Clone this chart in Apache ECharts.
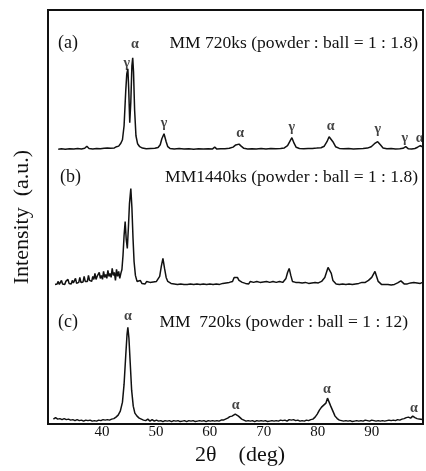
<!DOCTYPE html>
<html>
<head>
<meta charset="utf-8">
<script src="https://cdn.jsdelivr.net/npm/echarts@6/dist/echarts.min.js"></script>
<style>
  html, body { margin: 0; padding: 0; background: #fff; }
  #chart { width: 426px; height: 471px; }
</style>
</head>
<body>
<div id="chart"></div>
<script>
// 2θ (deg), intensity (a.u.)
const patternA = [
  [31.9, 0.5], [32.5, 0.9], [33.2, 0.4], [34.0, 1.0], [34.8, 0.6], [35.5, 1.1], [36.2, 0.7], [36.8, 1.4], [37.2, 3.4], [37.6, 1.2],
  [38.3, 0.8], [39.0, 1.3], [39.7, 0.9], [40.4, 1.4], [41.0, 1.6], [41.3, 3.2], [41.6, 1.4], [41.9, 2.2], [42.3, 1.8], [42.7, 3.0],
  [43.1, 3.6], [43.5, 6.5], [43.8, 10], [44.1, 24], [44.4, 58], [44.6, 76], [44.8, 81], [44.95, 62], [45.15, 27], [45.35, 48],
  [45.55, 84], [45.7, 92], [45.85, 78], [46.05, 40], [46.3, 14], [46.6, 6], [47.0, 3], [47.5, 1.6], [48.2, 1.0], [49.0, 1.2],
  [49.8, 1.4], [50.4, 2.2], [50.8, 5], [51.1, 11], [51.5, 16], [51.9, 8], [52.2, 3], [52.6, 1.3], [53.4, 0.8], [54.3, 1.1],
  [55.2, 0.7], [56.1, 1.0], [57.0, 0.5], [57.9, 0.9], [58.8, 0.6], [59.7, 1.0], [60.5, 0.8], [60.9, 2.6], [61.3, 0.6], [62.0, 1.0],
  [62.8, 0.9], [63.6, 1.4], [64.3, 2.6], [64.8, 4.8], [65.1, 6], [65.4, 5.6], [65.8, 3.6], [66.3, 1.4], [67.0, 0.8], [67.8, 1.0],
  [68.6, 0.7], [69.5, 1.1], [70.4, 0.8], [71.3, 1.2], [72.2, 0.9], [73.1, 1.3], [73.8, 1.8], [74.4, 4], [74.8, 8], [75.2, 12],
  [75.6, 6.5], [76.0, 2.4], [76.6, 1.2], [77.4, 0.9], [78.2, 1.1], [79.0, 1.3], [79.8, 1.6], [80.6, 2.0], [81.2, 3.5], [81.7, 8],
  [82.1, 13], [82.4, 14], [82.8, 8], [83.3, 3], [84.0, 1.3], [84.8, 0.9], [85.7, 1.1], [86.6, 0.8], [87.5, 1.0], [88.4, 1.2],
  [89.2, 1.6], [89.9, 3], [90.5, 6], [91.1, 8], [91.6, 5], [92.1, 1.8], [92.8, 0.9], [93.6, 1.1], [94.4, 0.8], [95.2, 1.0],
  [95.8, 1.4], [96.3, 3], [96.8, 0.9], [97.4, 0.6], [98.0, 1.2], [98.5, 2.5], [99.0, 4], [99.4, 3]
];

const patternB = [
  [31.3, 1], [31.5, 3], [31.7, 1.5], [31.9, 4], [32.1, 1], [32.3, 2], [32.5, 5], [32.7, 1.5], [32.9, 2.5], [33.1, 1],
  [33.3, 4], [33.5, 2], [33.7, 6], [33.9, 2], [34.1, 3], [34.3, 1.5], [34.5, 5], [34.7, 2.5], [34.9, 3], [35.1, 7],
  [35.3, 2], [35.5, 4], [35.7, 3], [35.9, 8], [36.1, 3], [36.3, 5], [36.5, 3.5], [36.7, 9], [36.9, 4], [37.1, 6],
  [37.3, 4], [37.5, 10], [37.7, 5], [37.9, 7], [38.1, 4], [38.3, 9], [38.5, 6], [38.7, 12], [38.9, 6], [39.1, 9],
  [39.3, 7], [39.5, 13], [39.7, 7], [39.9, 10], [40.1, 6], [40.3, 14], [40.5, 8], [40.7, 11], [40.9, 7], [41.1, 15],
  [41.3, 9], [41.5, 12], [41.7, 8], [41.9, 17], [42.1, 10], [42.3, 13], [42.5, 5], [42.7, 16], [42.9, 9], [43.1, 14],
  [43.3, 7], [43.5, 12], [43.7, 16], [43.9, 30], [44.1, 50], [44.3, 64], [44.5, 46], [44.7, 37], [44.9, 58], [45.1, 82],
  [45.35, 97], [45.55, 78], [45.75, 48], [45.95, 24], [46.2, 10], [46.5, 4], [46.8, 2], [47.1, 5], [47.4, 2], [47.7, 3],
  [48.0, 1.5], [48.3, 4], [48.6, 2], [48.9, 3], [49.2, 1.5], [49.5, 3.5], [49.8, 2], [50.1, 4], [50.4, 5], [50.7, 9],
  [51.0, 19], [51.3, 27], [51.6, 17], [51.9, 8], [52.2, 4], [52.5, 5], [52.8, 2], [53.1, 4], [53.4, 1.5], [53.7, 3],
  [54.0, 1], [54.3, 2.5], [54.6, 1.5], [54.9, 3.5], [55.2, 1], [55.5, 2], [55.8, 1], [56.1, 3], [56.4, 1.5], [56.7, 2],
  [57.0, 1], [57.3, 3], [57.6, 1.5], [57.9, 2.5], [58.2, 1], [58.5, 3], [58.8, 1.5], [59.1, 2], [59.4, 1], [59.7, 3],
  [60.0, 1.5], [60.3, 2], [60.6, 1], [60.9, 3], [61.2, 1.5], [61.5, 2.5], [61.8, 1], [62.1, 3], [62.4, 2], [62.7, 4],
  [63.0, 2.5], [63.3, 4], [63.6, 3], [63.9, 5], [64.2, 4], [64.5, 8], [64.8, 6], [65.1, 8], [65.4, 5], [65.7, 6],
  [66.0, 3], [66.3, 4], [66.6, 2], [66.9, 3.5], [67.2, 1.5], [67.5, 4], [67.8, 2], [68.1, 3], [68.4, 1.5], [68.7, 4],
  [69.0, 2], [69.3, 3], [69.6, 1.5], [69.9, 3.5], [70.2, 2], [70.5, 4], [70.8, 2], [71.1, 3], [71.4, 1.5], [71.7, 4],
  [72.0, 2.5], [72.3, 3], [72.6, 2], [72.9, 4], [73.2, 2.5], [73.5, 3], [73.8, 4], [74.1, 7], [74.4, 13], [74.7, 17],
  [75.0, 10], [75.3, 4], [75.6, 2.5], [75.9, 3], [76.2, 1.5], [76.5, 3], [76.8, 1.5], [77.1, 2.5], [77.4, 1], [77.7, 3],
  [78.0, 1.5], [78.3, 2], [78.6, 1], [78.9, 2.5], [79.2, 1.5], [79.5, 3], [79.8, 2], [80.1, 2.5], [80.4, 3], [80.7, 4],
  [81.0, 5], [81.3, 8], [81.6, 13], [81.9, 18], [82.2, 20], [82.5, 12], [82.8, 5], [83.1, 3], [83.4, 1.5], [83.7, 3],
  [84.0, 1], [84.3, 2.5], [84.6, 1.5], [84.9, 3], [85.2, 1], [85.5, 2], [85.8, 1.5], [86.1, 3], [86.4, 1], [86.7, 2.5],
  [87.0, 1.5], [87.3, 3], [87.6, 2], [87.9, 2.5], [88.2, 3], [88.5, 4], [88.8, 3], [89.1, 5], [89.4, 5], [89.7, 7],
  [90.0, 8], [90.3, 10], [90.6, 14], [90.9, 9], [91.2, 4], [91.5, 2], [91.8, 1], [92.1, 2], [92.4, 1], [92.7, 1.5],
  [93.0, 1], [93.3, 2], [93.6, 0.5], [93.9, 1.5], [94.2, 1], [94.5, 2], [94.8, 2.5], [95.1, 3.5], [95.4, 4.5], [95.7, 3],
  [96.0, 1.5], [96.3, 1], [96.6, 1.5], [96.9, 1], [97.2, 2.5], [97.5, 3.5], [97.8, 3], [98.1, 3.5], [98.4, 2.5], [98.7, 3],
  [99.0, 2], [99.4, 3]
];

const patternC = [
  [31.0, 3], [31.4, 4.5], [31.8, 3], [32.2, 3.5], [32.6, 2.5], [33.0, 3.5], [33.4, 2.5], [33.8, 3], [34.2, 2], [34.6, 2.5],
  [35.0, 1.5], [35.4, 2.5], [35.8, 1.5], [36.2, 2], [36.6, 1], [37.0, 2], [37.4, 1.5], [37.8, 2], [38.2, 1], [38.6, 1.5],
  [39.0, 1], [39.4, 2], [39.8, 1.5], [40.2, 2.5], [40.6, 2], [41.0, 2.5], [41.4, 2], [41.8, 3], [42.2, 3.5], [42.6, 5],
  [43.0, 7], [43.4, 11], [43.8, 20], [44.1, 38], [44.4, 66], [44.65, 88], [44.8, 95], [45.0, 84], [45.25, 58], [45.5, 32],
  [45.8, 16], [46.1, 9], [46.5, 6], [46.9, 4], [47.3, 3], [47.7, 2], [48.1, 1.5], [48.5, 3], [48.9, 1], [49.3, 2.5],
  [49.7, 1], [50.1, 2], [50.5, 1], [50.9, 1.5], [51.3, 0.5], [51.7, 1.5], [52.1, 1], [52.5, 1.5], [52.9, 0.5], [53.3, 1.5],
  [53.7, 1], [54.1, 1.5], [54.5, 0.5], [54.9, 1], [55.3, 1.5], [55.7, 0.5], [56.1, 1.5], [56.5, 1], [56.9, 1.5], [57.3, 0.5],
  [57.7, 1], [58.1, 1.5], [58.5, 1], [58.9, 1.5], [59.3, 0.5], [59.7, 1.5], [60.1, 1], [60.5, 1.5], [60.9, 1], [61.3, 1.5],
  [61.7, 1], [62.1, 2], [62.5, 2], [62.9, 3], [63.3, 4], [63.7, 5.5], [64.1, 6], [64.4, 7], [64.7, 8], [65.0, 7],
  [65.3, 6], [65.6, 5], [65.9, 3], [66.3, 2], [66.7, 1], [67.1, 1.5], [67.5, 1], [67.9, 1.5], [68.3, 0.5], [68.7, 1.5],
  [69.1, 1], [69.5, 1.5], [69.9, 1], [70.3, 1.5], [70.7, 0.5], [71.1, 1], [71.5, 1.5], [71.9, 1], [72.3, 1.5], [72.7, 1],
  [73.1, 2], [73.5, 1.5], [73.9, 2], [74.3, 1], [74.7, 2.5], [75.1, 2], [75.5, 2.5], [75.9, 1.5], [76.3, 2], [76.7, 1],
  [77.1, 1.5], [77.5, 1], [77.9, 2], [78.3, 1.5], [78.7, 2.5], [79.1, 3], [79.5, 5], [79.9, 8], [80.3, 12], [80.7, 15],
  [81.1, 17], [81.5, 19], [81.8, 24], [82.1, 20], [82.4, 16], [82.8, 11], [83.2, 6], [83.6, 3.5], [84.0, 2], [84.4, 1.5],
  [84.8, 1], [85.2, 1.5], [85.6, 1], [86.0, 1.5], [86.4, 0.5], [86.8, 1], [87.2, 1.5], [87.6, 1], [88.0, 1.5], [88.4, 1],
  [88.8, 2], [89.2, 1.5], [89.6, 1], [90.0, 2], [90.4, 1.5], [90.8, 1], [91.2, 1.5], [91.6, 1], [92.0, 1.5], [92.4, 1],
  [92.8, 1.5], [93.2, 2], [93.6, 1.5], [94.0, 2], [94.4, 1.5], [94.8, 2.5], [95.2, 2], [95.6, 3], [96.0, 3.5], [96.4, 4.5],
  [96.8, 5], [97.2, 4], [97.6, 6], [98.0, 4.5], [98.4, 3.5], [98.8, 3], [99.4, 2.5]
];

// phase marks: [phase, 2θ, height of the mark above the trace baseline]
const marksA = [
  ['γ', 44.6, 86], ['α', 46.1, 106], ['γ', 51.5, 26], ['α', 65.6, 16], ['γ', 75.2, 22],
  ['α', 82.4, 23], ['γ', 91.1, 20], ['γ', 96.1, 11], ['α', 98.9, 11]
];
const marksC = [
  ['α', 44.8, 106], ['α', 64.8, 17], ['α', 81.7, 33], ['α', 97.8, 14]
];

const xTicks = [40, 50, 60, 70, 80, 90];

const serif = '"Liberation Serif", "DejaVu Serif", serif';
const ink = '#111';

// vertical stacking of the three traces
const offsets = { a: 275, b: 139, c: 2 };

function shift(points, off) {
  return points.map(p => [p[0], p[1] + off]);
}

function traceSeries(points, off) {
  return {
    type: 'line',
    data: shift(points, off),
    showSymbol: false,
    symbol: 'none',
    silent: true,
    lineStyle: { color: ink, width: 1.5 },
    z: 3
  };
}

function markSeries(marks, off) {
  return {
    type: 'scatter',
    symbolSize: 0,
    silent: true,
    data: marks.map(m => ({ name: m[0], value: [m[1], m[2] + off] })),
    label: {
      show: true,
      position: 'inside',
      formatter: '{b}',
      fontFamily: serif,
      fontWeight: 'bold',
      fontSize: 14,
      color: ink
    },
    z: 4
  };
}

function panelText(x, y, text, align, size) {
  return {
    type: 'text',
    x: x,
    y: y,
    silent: true,
    style: {
      text: text,
      font: size + 'px ' + serif,
      fill: ink,
      align: align,
      verticalAlign: 'middle'
    }
  };
}

const chart = echarts.init(document.getElementById('chart'), null, { renderer: 'canvas' });

chart.setOption({
  animation: false,
  backgroundColor: '#fff',
  grid: {
    left: 48, right: 3, top: 10, bottom: 46,
    show: true,
    borderColor: ink,
    borderWidth: 2
  },
  xAxis: {
    type: 'value',
    min: 30,
    max: 99.5,
    interval: 10,
    name: '2θ    (deg)',
    nameLocation: 'middle',
    nameGap: 15,
    nameTextStyle: { fontFamily: serif, fontSize: 22, color: ink, padding: [0, 0, 0, 9] },
    axisLine: { show: true, onZero: false, lineStyle: { color: ink, width: 2 } },
    axisTick: { show: false },
    splitLine: { show: false },
    axisLabel: {
      showMinLabel: false,
      showMaxLabel: false,
      margin: 0,
      fontFamily: serif,
      fontSize: 15,
      color: ink,
      formatter: v => (xTicks.indexOf(v) >= 0 ? String(v) : '')
    }
  },
  yAxis: {
    type: 'value',
    min: 0,
    max: 415,
    name: 'Intensity  (a.u.)',
    nameLocation: 'middle',
    nameGap: 15,
    nameRotate: 90,
    nameTextStyle: { fontFamily: serif, fontSize: 22, color: ink },
    axisLine: { show: false },
    axisTick: { show: false },
    axisLabel: { show: false },
    splitLine: { show: false }
  },
  graphic: [
    panelText(58, 43, '(a)', 'left', 18),
    panelText(418, 43, 'MM 720ks (powder : ball = 1 : 1.8)', 'right', 17.5),
    panelText(60, 177, '(b)', 'left', 18),
    panelText(418, 177, 'MM1440ks (powder : ball = 1 : 1.8)', 'right', 17.5),
    panelText(58, 322, '(c)', 'left', 18),
    panelText(408, 322, 'MM  720ks (powder : ball = 1 : 12)', 'right', 17.5)
  ],
  series: [
    traceSeries(patternA, offsets.a),
    traceSeries(patternB, offsets.b),
    traceSeries(patternC, offsets.c),
    markSeries(marksA, offsets.a),
    markSeries(marksC, offsets.c)
  ]
});
</script>
</body>
</html>
